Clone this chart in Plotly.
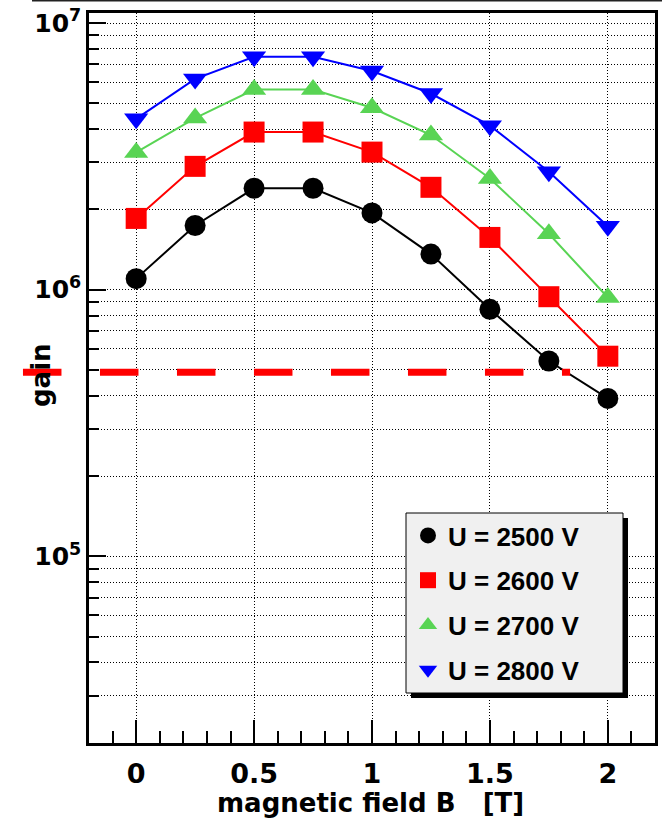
import math
import plotly.graph_objects as go

# Magnetic field values (T) at which the gain was measured
field_T = [0.0, 0.25, 0.5, 0.75, 1.0, 1.25, 1.5, 1.75, 2.0]

# Gain for each supply voltage
gain_2500V = [1.10e6, 1.74e6, 2.40e6, 2.40e6, 1.94e6, 1.36e6, 8.44e5, 5.40e5, 3.91e5]
gain_2600V = [1.85e6, 2.90e6, 3.90e6, 3.90e6, 3.28e6, 2.42e6, 1.57e6, 9.41e5, 5.63e5]
gain_2700V = [3.27e6, 4.40e6, 5.63e6, 5.63e6, 4.81e6, 3.80e6, 2.61e6, 1.62e6, 9.35e5]
gain_2800V = [4.37e6, 6.17e6, 7.47e6, 7.47e6, 6.61e6, 5.44e6, 4.12e6, 2.77e6, 1.73e6]

series_labels = ["U = 2500 V", "U = 2600 V", "U = 2700 V", "U = 2800 V"]

# Reference gain level (dashed line) and its extent along B
threshold_gain = 4.9e5
threshold_B = [-0.48, 1.84]

# Axis tick labels
x_tickvals = [0, 0.5, 1, 1.5, 2]
x_ticktext = ["0", "0.5", "1", "1.5", "2"]
y_tickvals = [1e5, 1e6, 1e7]
y_ticktext = ["10<sup>5</sup>", "10<sup>6</sup>", "10<sup>7</sup>"]

# ---------------------------------------------------------------- layout
W, H = 662, 831
ML, MR, MT, MB = 89, 7, 13, 88
PW, PH = W - ML - MR, H - MT - MB
X_RANGE = [-0.2, 2.2]
Y_RANGE = [4.300, 7.0375]
AXIS_FONT = "DejaVu Sans, Verdana, sans-serif"
LEGEND_FONT = "Liberation Sans, Arial, Helvetica, sans-serif"


def px_x(px):
    return (px - ML) / PW


def px_y(py):
    return (H - MB - py) / PH


def data_x(v):
    return (v - X_RANGE[0]) / (X_RANGE[1] - X_RANGE[0])


def data_y(v):
    return (math.log10(v) - Y_RANGE[0]) / (Y_RANGE[1] - Y_RANGE[0])


styles = [
    dict(color="#000000", symbol="circle", size=21),
    dict(color="#ff0000", symbol="square", size=21),
    dict(color="#59d454", symbol="triangle-up", size=21),
    dict(color="#0000ff", symbol="triangle-down", size=21),
]
series = [gain_2500V, gain_2600V, gain_2700V, gain_2800V]

fig = go.Figure()
for label, values, st in zip(series_labels, series, styles):
    fig.add_trace(go.Scatter(
        x=field_T, y=values, mode="lines",
        line=dict(color=st["color"], width=2),
        showlegend=False, legendgroup=label, hoverinfo="skip",
    ))
    fig.add_trace(go.Scatter(
        x=field_T, y=values, mode="markers", name=label,
        marker=dict(color=st["color"], symbol=st["symbol"], size=st["size"],
                    line=dict(width=0)),
        legendgroup=label,
    ))

# minor ticks on the log axis: 2..9 x 10^n
y_minor = [k * 10 ** d for d in range(4, 7) for k in range(2, 10)
           if Y_RANGE[0] - 1e-6 <= math.log10(k * 10 ** d) <= Y_RANGE[1]]

grid_dash = "1px,2px"

fig.update_xaxes(
    range=X_RANGE, showline=True, linewidth=2.5, linecolor="#000", mirror=True,
    tickmode="array", tickvals=x_tickvals, ticktext=x_ticktext,
    ticks="inside", ticklen=23, tickwidth=1.5, tickcolor="#000",
    showgrid=True, gridcolor="#000", gridwidth=1, griddash=grid_dash,
    zeroline=False,
    tickfont=dict(family=AXIS_FONT, size=27, color="#000", weight="bold"),
    ticklabelstandoff=5,
    minor=dict(dtick=0.1, tick0=0, ticks="inside", ticklen=12, tickwidth=1.5,
               tickcolor="#000", showgrid=False),
)
fig.update_yaxes(
    type="log", range=Y_RANGE, showline=True, linewidth=2.5, linecolor="#000",
    mirror=True,
    tickmode="array", tickvals=y_tickvals, ticktext=y_ticktext,
    ticks="inside", ticklen=17, tickwidth=1.5, tickcolor="#000",
    showgrid=True, gridcolor="#000", gridwidth=1, griddash=grid_dash,
    zeroline=False,
    tickfont=dict(family=AXIS_FONT, size=25, color="#000", weight="bold"),
    ticklabelstandoff=0,
    minor=dict(tickmode="array", tickvals=y_minor, ticks="inside", ticklen=10,
               tickwidth=1.5, tickcolor="#000", showgrid=True,
               gridcolor="#000", gridwidth=1, griddash=grid_dash),
)

# legend frame with drop shadow
LB = dict(x0=406, x1=623, y0=513, y1=693)
shadow = 5
shapes = [
    dict(type="rect", xref="paper", yref="paper",
         x0=px_x(LB["x0"] + shadow), x1=px_x(LB["x1"] + shadow),
         y0=px_y(LB["y1"] + shadow), y1=px_y(LB["y0"] + shadow),
         fillcolor="#000", line=dict(width=0), layer="above"),
    dict(type="rect", xref="paper", yref="paper",
         x0=px_x(LB["x0"]), x1=px_x(LB["x1"]),
         y0=px_y(LB["y1"]), y1=px_y(LB["y0"]),
         fillcolor="#f0f0f0", line=dict(color="#000", width=1), layer="above"),
    # reference gain level
    dict(type="line", xref="paper", yref="paper",
         x0=data_x(threshold_B[0]), x1=data_x(threshold_B[1]),
         y0=data_y(threshold_gain), y1=data_y(threshold_gain),
         line=dict(color="#ff0000", width=7, dash="38.5px,38.5px"), layer="above"),
    # canvas edge at the top
    dict(type="line", xref="paper", yref="paper",
         x0=px_x(32), x1=px_x(662), y0=px_y(0.8), y1=px_y(0.8),
         line=dict(color="#222", width=1.5), layer="above"),
]

annotations = [
    dict(text="magnetic field B\u00a0\u00a0\u00a0[T]", xref="paper", yref="paper",
         x=px_x(370.5), y=px_y(803), xanchor="center", yanchor="middle",
         showarrow=False,
         font=dict(family=AXIS_FONT, size=26, color="#000", weight="bold")),
    dict(text="gain", xref="paper", yref="paper", textangle=-90,
         x=px_x(41), y=px_y(375), xanchor="center", yanchor="middle",
         showarrow=False,
         font=dict(family=AXIS_FONT, size=26, color="#000", weight="bold")),
]

fig.update_layout(
    width=W, height=H,
    margin=dict(l=ML, r=MR, t=MT, b=MB, autoexpand=False),
    paper_bgcolor="#ffffff", plot_bgcolor="#ffffff",
    shapes=shapes, annotations=annotations,
    showlegend=True,
    legend=dict(
        x=px_x(LB["x0"] + 2), y=px_y(LB["y0"] - 1), xanchor="left", yanchor="top",
        bgcolor="rgba(0,0,0,0)", borderwidth=0, traceorder="grouped",
        tracegroupgap=8, itemsizing="trace",
        font=dict(family=LEGEND_FONT, size=26, color="#000", weight="bold"),
    ),
)

fig.write_html("out.html")
